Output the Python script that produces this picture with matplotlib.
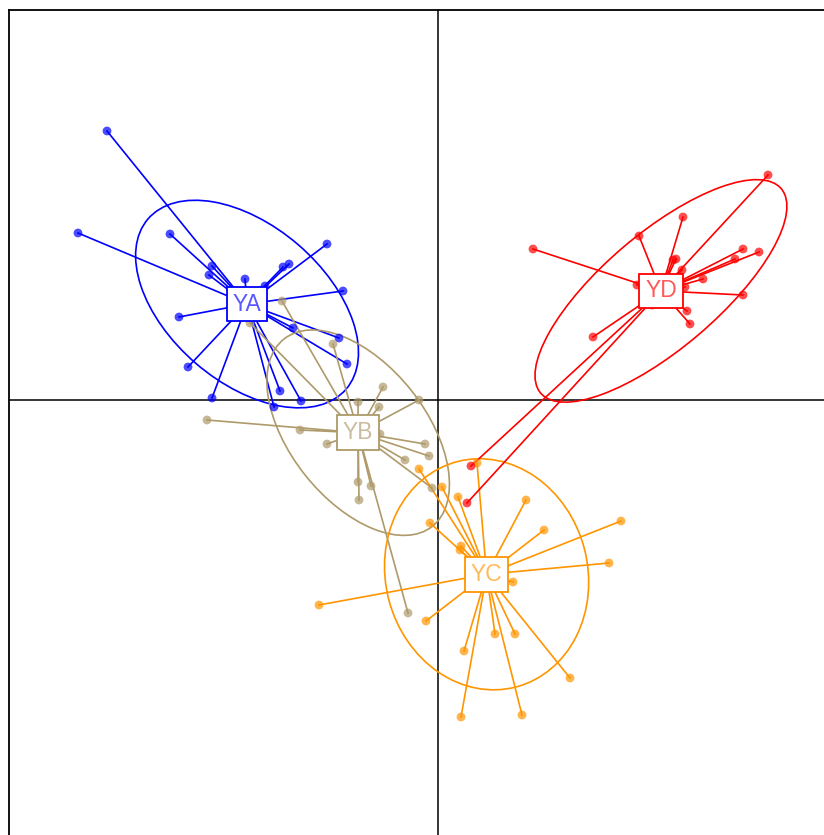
import numpy as np
import matplotlib
matplotlib.use("Agg")
import matplotlib.pyplot as plt
from matplotlib.patches import Ellipse
from matplotlib.colors import to_rgba

# a. Data (factorial coordinates)
groups = ["YA", "YB", "YC", "YD"]
colors = ["blue", "#AE9A6A", "#FF9500", "red"]

ya_x = [-3.31, -3.60, -2.68, -2.26, -2.29, -1.93, -1.73, -1.55, -1.49, -1.11,
        -0.95, -2.59, -1.45, -0.99, -0.91, -2.50, -2.26, -1.58, -1.37, -1.64]
ya_y = [2.69, 1.67, 1.66, 1.34, 1.25, 1.21, 1.14, 1.33, 1.36, 1.56,
        1.09, 0.83, 0.72, 0.62, 0.36, 0.33, 0.02, 0.09, -0.01, -0.07]

yb_x = [-1.56, -1.88, -1.05, -0.55, -0.80, -0.59, -0.19, -2.31, -1.38, -1.11,
        -0.13, -0.09, -0.33, -0.58, -0.80, -0.67, -0.79, -0.06, -0.30]
yb_y = [0.99, 0.77, 0.56, 0.13, -0.02, -0.07, 0.00, -0.20, -0.30, -0.44,
        -0.44, -0.56, -0.60, -0.34, -0.82, -0.86, -1.00, -0.88, -2.13]

yc_x = [0.39, -0.19, 0.04, 0.20, 0.88, -0.08, 1.06, 1.83, 0.23, 0.22,
        1.71, 0.75, -1.19, -0.12, 0.57, 0.77, 0.26, 1.32, 0.23, 0.84]
yc_y = [-0.63, -0.69, -0.87, -0.97, -1.00, -1.23, -1.30, -1.21, -1.46, -1.50,
        -1.63, -1.82, -2.05, -2.21, -2.34, -2.34, -2.51, -2.78, -3.17, -3.15]

yd_x = [3.30, 2.45, 2.01, 0.95, 2.38, 2.35, 2.44, 3.05, 3.21, 2.97,
        2.65, 1.99, 2.47, 3.05, 2.49, 2.14, 2.52, 1.55, 0.33, 0.29]
yd_y = [2.25, 1.83, 1.64, 1.51, 1.41, 1.40, 1.30, 1.51, 1.48, 1.41,
        1.21, 1.15, 1.13, 1.05, 0.89, 0.95, 0.76, 0.63, -0.66, -1.03]

xs = [ya_x, yb_x, yc_x, yd_x]
ys = [ya_y, yb_y, yc_y, yd_y]

# b. Figure; axes frame runs past the right and bottom edges like the original
fig = plt.figure(figsize=(8.24, 8.35), dpi=100)
W, H = 824, 835
ax = fig.add_axes([9/W, (H - 10 - 860)/H, 860/W, 860/H])
ax.set_xlim(-4.29, 4.31)
ax.set_ylim(-4.70, 3.90)
ax.set_xticks([])
ax.set_yticks([])
for s in ax.spines.values():
    s.set_linewidth(1.3)

ax.axhline(0, color="black", lw=1.1, zorder=1)
ax.axvline(0, color="black", lw=1.1, zorder=1)

# c. Stars, ellipses and labels (ade4 s.class style, cellipse = 1.5)
for g, c, x, y in zip(groups, colors, xs, ys):
    x = np.array(x)
    y = np.array(y)
    mx, my = x.mean(), y.mean()
    for xi, yi in zip(x, y):
        ax.plot([mx, xi], [my, yi], color=c, lw=1.2, zorder=2)
    ax.scatter(x, y, s=40, color=c, alpha=0.7, edgecolors="none", zorder=3)

    cov = np.cov(x, y, bias=True)
    vals, vecs = np.linalg.eigh(cov)
    ang = np.degrees(np.arctan2(vecs[1, 1], vecs[0, 1]))
    w, h = 2 * 1.5 * np.sqrt(vals[1]), 2 * 1.5 * np.sqrt(vals[0])
    ax.add_patch(Ellipse((mx, my), w, h, angle=ang, fill=False,
                         edgecolor=c, lw=1.2, zorder=2))

    ax.text(mx, my, g, ha="center", va="center", fontsize=16.5,
            family="Liberation Sans", color=to_rgba(c, 0.65), zorder=5,
            bbox=dict(boxstyle="square,pad=0.25", facecolor="white",
                      edgecolor=c, lw=1.3))

fig.savefig("out.png", dpi=100)
